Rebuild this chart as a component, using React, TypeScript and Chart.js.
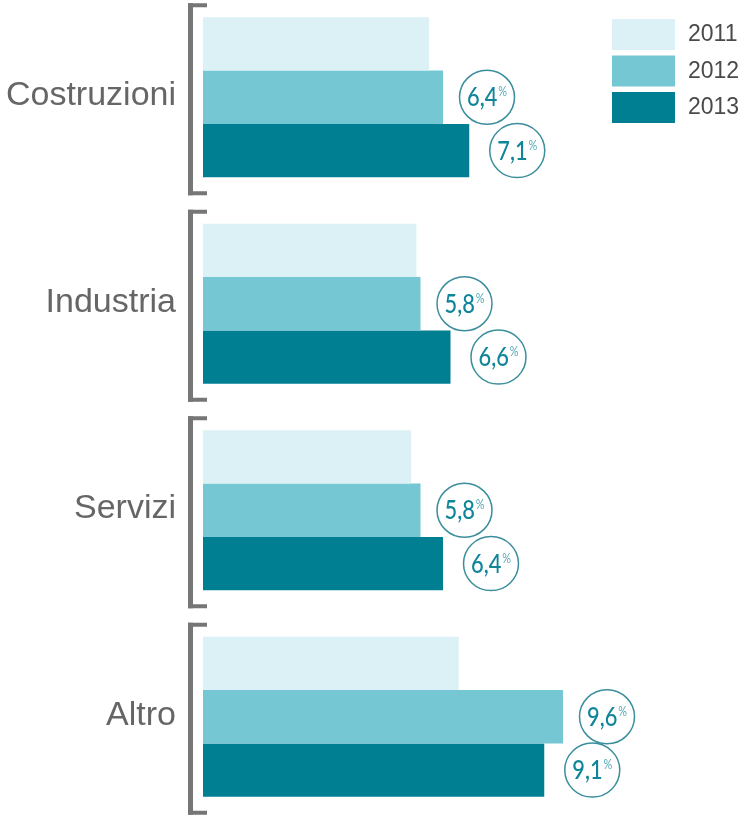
import React, { useEffect, useRef } from "react";
import { Chart, registerables } from "chart.js";

Chart.register(...registerables);

const categories = ["Costruzioni", "Industria", "Servizi", "Altro"];
const years = ["2011", "2012", "2013"];
const values2011 = [6.03, 5.69, 5.55, 6.82];
const values2012 = [6.4, 5.8, 5.8, 9.6];
const values2013 = [7.1, 6.6, 6.4, 9.1];
const barColors = ["#dbf1f5", "#75c7d4", "#007f93"];
const labelledSeries = [1, 2];

const fmt = (v: number) => v.toFixed(1).replace(".", ",");

const NUM_FONT = "500 26px Lato, 'Open Sans', sans-serif";
const PCT_FONT = "13px Lato, 'Open Sans', sans-serif";
const SQUEEZE = 0.84;

const decorPlugin = {
  id: "decor",
  afterDatasetsDraw(chart: any) {
    const ctx = chart.ctx;
    const yScale = chart.scales.y;
    ctx.save();
    // brackets and category labels
    categories.forEach((cat, i) => {
      const yc = yScale.getPixelForValue(i);
      const top = yc - 94;
      const bot = yc + 98;
      ctx.fillStyle = "#767676";
      ctx.fillRect(188, top, 5, bot - top);
      ctx.fillRect(188, top, 19, 4);
      ctx.fillRect(188, bot - 4, 19, 4);
      ctx.fillStyle = "#666666";
      ctx.font = "34px 'Liberation Sans', Arial, sans-serif";
      ctx.textAlign = "right";
      ctx.textBaseline = "alphabetic";
      ctx.fillText(cat, 176, yc + 8);
    });
    // circled value labels
    labelledSeries.forEach((di) => {
      const meta = chart.getDatasetMeta(di);
      const ds = chart.data.datasets[di];
      const off = di === 1 ? 44 : 48;
      meta.data.forEach((bar: any, i: number) => {
        const cx = bar.x + off;
        const cy = bar.y;
        ctx.beginPath();
        ctx.ellipse(cx, cy, 27.5, 27, 0, 0, Math.PI * 2);
        ctx.strokeStyle = "#3b8e9c";
        ctx.lineWidth = 1.5;
        ctx.stroke();
        const txt = fmt(ds.data[i]);
        ctx.font = NUM_FONT;
        const w1 = ctx.measureText(txt).width;
        ctx.font = PCT_FONT;
        const w2 = ctx.measureText("%").width;
        const total = (w1 + w2 + 1) * SQUEEZE;
        ctx.save();
        ctx.translate(cx - total / 2, cy);
        ctx.scale(SQUEEZE, 1);
        ctx.textAlign = "left";
        ctx.textBaseline = "alphabetic";
        ctx.fillStyle = "#0f8599";
        ctx.font = NUM_FONT;
        ctx.fillText(txt, 0, 9);
        ctx.fillStyle = "#55a9b6";
        ctx.font = PCT_FONT;
        ctx.fillText("%", w1 + 1, -1);
        ctx.restore();
      });
    });
    // legend
    chart.data.datasets.forEach((ds: any, i: number) => {
      const y = 25 + i * 36.5;
      ctx.fillStyle = ds.backgroundColor;
      ctx.fillRect(612, y, 63, 31);
      ctx.fillStyle = "#4a4a4a";
      ctx.font = "23px 'Liberation Sans', Arial, sans-serif";
      ctx.textAlign = "left";
      ctx.textBaseline = "middle";
      ctx.fillText(ds.label, 688, y + 16);
    });
    ctx.restore();
  },
};

export default function App() {
  const ref = useRef<HTMLCanvasElement>(null);
  useEffect(() => {
    document.body.style.margin = "0";
    const chart = new Chart(ref.current as HTMLCanvasElement, {
      type: "bar",
      data: {
        labels: categories,
        datasets: [values2011, values2012, values2013].map((vals, i) => ({
          label: years[i],
          data: vals,
          backgroundColor: barColors[i],
          borderWidth: 0,
          barPercentage: 1,
          categoryPercentage: 0.775,
        })),
      },
      options: {
        indexAxis: "y",
        responsive: false,
        animation: false,
        layout: { padding: { left: 203, right: 21, top: 0, bottom: 0 } },
        scales: {
          x: { display: false, min: 0, max: 14 },
          y: { display: false },
        },
        plugins: {
          legend: { display: false },
          tooltip: { enabled: false },
        },
      },
      plugins: [decorPlugin],
    });
    return () => chart.destroy();
  }, []);
  return (
    <div style={{ position: "fixed", left: 0, top: 0, width: 749, height: 819, overflow: "hidden", background: "#fff" }}>
      <canvas ref={ref} width={749} height={826} style={{ position: "absolute", left: 0, top: -6, width: 749, height: 826 }} />
    </div>
  );
}
